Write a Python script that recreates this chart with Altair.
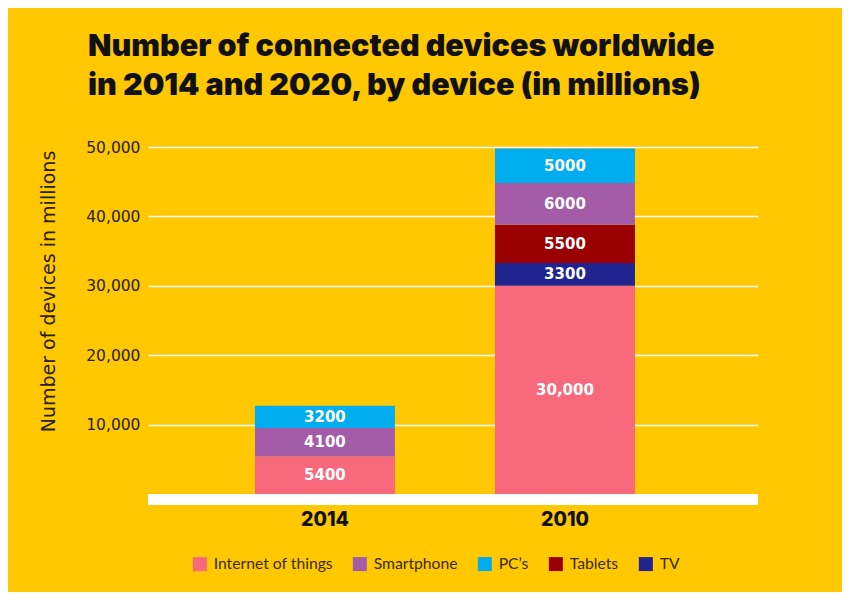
import altair as alt
import pandas as pd

# ---- data ----
years = ["2014", "2010"]
devices = ["Internet of things", "TV", "Tablets", "Smartphone", "PC’s"]
values_2014 = [5400, None, None, 4100, 3200]
values_2020 = [30000, 3300, 5500, 6000, 5000]
labels_2014 = ["5400", None, None, "4100", "3200"]
labels_2020 = ["30,000", "3300", "5500", "6000", "5000"]
legend_order = ["Internet of things", "Smartphone", "PC’s", "Tablets", "TV"]
legend_colors = ["#F7697B", "#A45CA8", "#00AEEF", "#9A0000", "#202490"]
y_ticks = [10000, 20000, 30000, 40000, 50000]

rows = []
for yr, vals, labs in [(years[0], values_2014, labels_2014), (years[1], values_2020, labels_2020)]:
    for i, (d, v, l) in enumerate(zip(devices, vals, labs)):
        if v is not None:
            rows.append({"year": yr, "device": d, "value": v, "label": l, "order": i})
df = pd.DataFrame(rows)

BG = "#FFC800"
W, H = 610, 347

x_axis = alt.Axis(
    title=None, labelAngle=0, ticks=False, domain=False,
    labelFont="Inter", labelFontWeight=800, labelFontSize=19.5,
    labelColor="#111111", labelPadding=16,
)
x_scale = alt.Scale(paddingInner=0.4167, paddingOuter=0.479, align=0.465)

y_scale = alt.Scale(domain=[0, 50000], nice=False)
y_axis = alt.Axis(
    values=y_ticks, ticks=False, domain=False,
    labelExpr="floor(datum.value / 1000) + ',000'",
    grid=True, gridColor="white", gridWidth=1.6,
    labelFont="DejaVu Sans", labelFontSize=15.5, labelColor="#2a2100",
    labelPadding=8,
    title="Number of devices in millions",
    titleFont="DejaVu Sans", titleFontSize=19, titleFontWeight="normal",
    titleColor="#2a2100", titleAngle=270, titleX=-100, titleY=144,
    titleAlign="center", titleBaseline="middle",
)

bars = alt.Chart(df).mark_bar(size=140).encode(
    x=alt.X("year:N", sort=years, scale=x_scale, axis=x_axis),
    y=alt.Y("value:Q", stack="zero", scale=y_scale, axis=y_axis),
    color=alt.Color(
        "device:N",
        scale=alt.Scale(domain=legend_order, range=legend_colors),
        legend=alt.Legend(
            title=None, orient="none", direction="horizontal",
            legendX=44, legendY=409,
            symbolType="square", symbolSize=196, symbolStrokeWidth=0,
            symbolOpacity=1,
            labelFont="Lato", labelFontSize=15.7, labelColor="#3a2c00",
            labelOffset=6, columnPadding=19,
        ),
    ),
    order=alt.Order("order:Q", sort="ascending"),
)

text = alt.Chart(df).transform_stack(
    stack="value", groupby=["year"], sort=[alt.SortField("order", "ascending")],
    as_=["y0", "y1"],
).transform_calculate(
    mid="(datum.y0 + datum.y1) / 2"
).mark_text(
    color="white", font="DejaVu Sans", fontWeight="bold", fontSize=15,
    baseline="middle", align="center",
).encode(
    x=alt.X("year:N", sort=years, scale=x_scale, axis=x_axis),
    y=alt.Y("mid:Q", scale=y_scale, axis=y_axis),
    text="label:N",
)

base_rule = alt.Chart(df).mark_rule(
    color="white", strokeWidth=11, yOffset=5.5
).encode(
    y=alt.YDatum(0, scale=y_scale, axis=y_axis),
    x=alt.value(0),
    x2=alt.value(W),
)

chart = alt.layer(bars, text, base_rule).properties(
    width=W,
    height=H,
    autosize=alt.AutoSizeParams(type="none"),
    padding={"left": 140, "top": 139, "right": 84, "bottom": 98},
    background=BG,
    title=alt.TitleParams(
        text=["Number of connected devices worldwide",
              "in 2014 and 2020, by device (in millions)"],
        anchor="start", frame="group", dx=-60, offset=39,
        font="Inter", fontSize=30.5, fontWeight=900, color="#111111",
        lineHeight=39,
    ),
).configure_view(strokeWidth=0, strokeOpacity=0)

chart.save("out.html", embed_options={"renderer": "svg", "actions": False})
